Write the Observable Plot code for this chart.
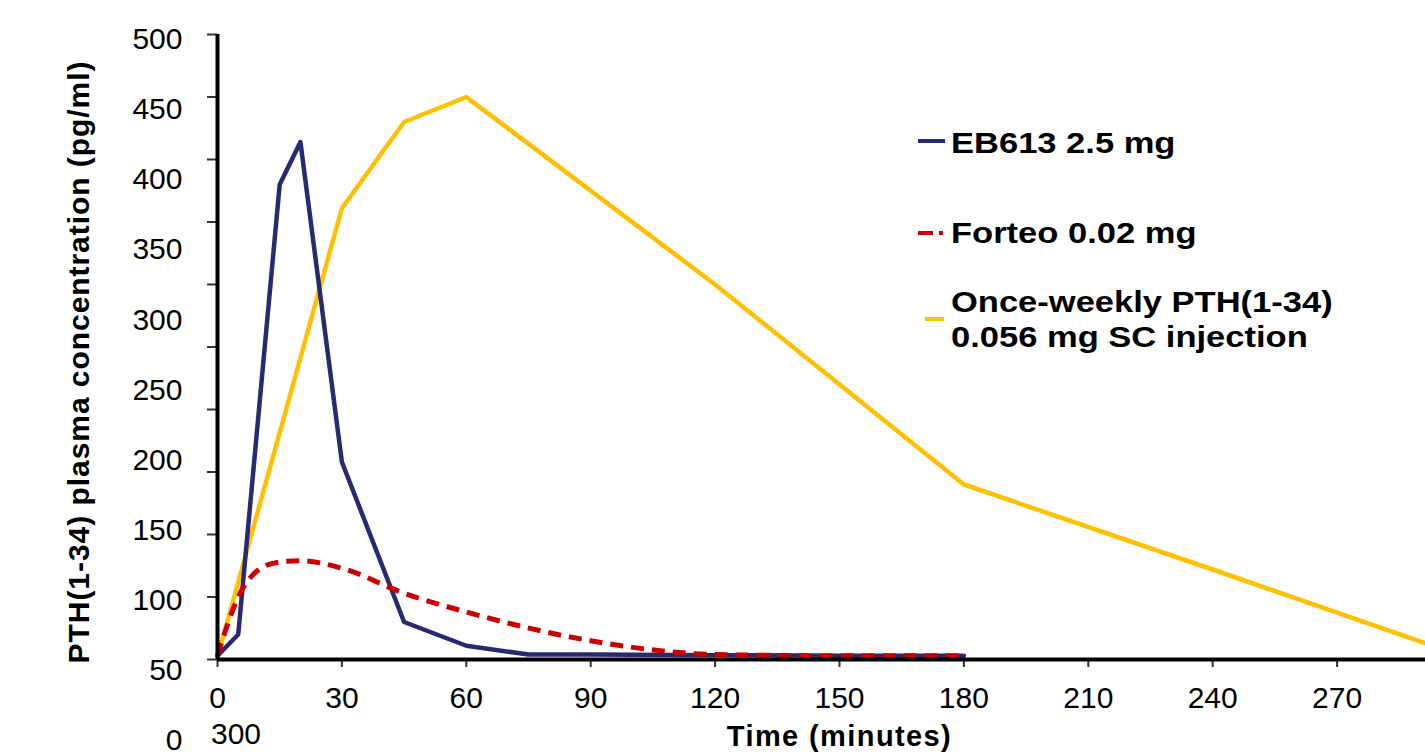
<!DOCTYPE html>
<html><head><meta charset="utf-8">
<script src="https://cdn.jsdelivr.net/npm/d3@7"></script>
<script src="https://cdn.jsdelivr.net/npm/@observablehq/plot@0.6"></script>
<style>
html,body{margin:0;padding:0;background:#fff;overflow:hidden;width:1425px;height:755px;}
#wrap{position:relative;width:1425px;height:755px;overflow:hidden;font-family:"Liberation Sans",Arial,sans-serif;color:#000;}
#wrap svg{position:absolute;top:0;left:0;}
.leg{position:absolute;font-size:29px;font-weight:bold;line-height:29px;white-space:nowrap;transform:scaleX(1.19);transform-origin:0 0;}
.sw{position:absolute;height:4px;}
#xwrap{position:absolute;font-size:30px;line-height:30px;white-space:nowrap;}
</style></head><body><div id="wrap"></div>
<script>
// ---- data ----
const seriesNames = ["EB613 2.5 mg", "Forteo 0.02 mg", "Once-weekly PTH(1-34)\n0.056 mg SC injection"];
const ebTime = [0, 5, 15, 20, 30, 45, 60, 75, 90, 120, 150, 180];
const ebConc = [3, 20, 380, 414, 158, 30, 11, 4, 4, 3.5, 3, 3];
const forteoTime = [0, 5, 10, 15, 20, 30, 45, 60, 90, 120, 150, 180];
const forteoConc = [3, 50, 72, 78, 79, 73, 53, 38, 15, 4, 3, 3];
const weeklyTime = [0, 30, 45, 60, 120, 180, 240, 300];
const weeklyConc = [2, 361, 430, 450, 300, 140, 72, 3];
const xTicks = [0, 30, 60, 90, 120, 150, 180, 210, 240, 270, 300];
const yTicks = [0, 50, 100, 150, 200, 250, 300, 350, 400, 450, 500];
const xTitle = "Time (minutes)";
const yTitle = "PTH(1-34) plasma concentration (pg/ml)";

// ---- styles ----
const colors = ["#272a70", "#cc0000", "#ffc000"];
const font = "'Liberation Sans', Arial, sans-serif";

const rows = (ts, vs) => ts.map((t, i) => ({t, v: vs[i]}));
const eb = rows(ebTime, ebConc);
const forteo = rows(forteoTime, forteoConc);
const weekly = rows(weeklyTime, weeklyConc);

const wrap = document.getElementById("wrap");

const main = Plot.plot({
  width: 1470, height: 755,
  marginTop: 34, marginBottom: 96, marginLeft: 217, marginRight: 9,
  x: {domain: [0, 300], axis: null},
  y: {domain: [0, 500], axis: null},
  style: {fontFamily: font, background: "white", maxWidth: "none", color: "black"},
  marks: [
    Plot.axisY(yTicks, {tickSize: 10, stroke: "#333", strokeWidth: 2, fill: "none", label: null}),
    Plot.axisX(xTicks.slice(0, -1), {tickSize: 8, tickPadding: 19, stroke: "#333", strokeWidth: 2, fill: "black", fontSize: 30, label: null}),
    Plot.line(weekly, {x: "t", y: "v", stroke: colors[2], strokeWidth: 4.5}),
    Plot.line(eb, {x: "t", y: "v", stroke: colors[0], strokeWidth: 4.5}),
    Plot.line(forteo, {x: "t", y: "v", stroke: colors[1], strokeWidth: 5, strokeDasharray: "13,8", strokeLinecap: "butt", curve: "monotone-x"}),
    Plot.ruleX([0], {stroke: "black", strokeWidth: 4}),
    Plot.ruleY([0], {stroke: "black", strokeWidth: 4}),
    Plot.text([yTitle], {text: d => d, frameAnchor: "left", textAnchor: "middle", rotate: -90, dx: -138, dy: 15, fontSize: 30, fontWeight: "bold", fill: "black", lineAnchor: "middle"}),
    Plot.text([xTitle], {text: d => d, frameAnchor: "bottom", textAnchor: "middle", dy: 77, fontSize: 29, fontWeight: "bold", fill: "black", lineAnchor: "middle"})
  ]
});
wrap.appendChild(main);
// letter spacing on the axis titles (style only)
d3.select(main).selectAll("text").filter(function() { return this.textContent === yTitle; }).style("letter-spacing", "0.95px");
d3.select(main).selectAll("text").filter(function() { return this.textContent === xTitle; }).style("letter-spacing", "1.4px");

// y tick labels (offset label scale, as in the reference)
const ylab = Plot.plot({
  width: 200, height: 755,
  marginTop: 39, marginBottom: 15, marginLeft: 182, marginRight: 18,
  x: {axis: null},
  y: {domain: [0, 500], axis: null},
  style: {fontFamily: font, background: "transparent", maxWidth: "none", color: "black"},
  marks: [
    Plot.axisY(yTicks, {tickSize: 0, tickPadding: 0, fontSize: 30, fill: "black", stroke: "none", label: null})
  ]
});
wrap.appendChild(ylab);

// wrapped last x tick label
const xw = document.createElement("div");
xw.id = "xwrap";
xw.style.left = "211px"; xw.style.top = "719px";
xw.textContent = String(xTicks[xTicks.length - 1]);
wrap.appendChild(xw);

// legend
function sw(left, top, width, color) {
  const d = document.createElement("div");
  d.className = "sw";
  d.style.left = left + "px"; d.style.top = top + "px"; d.style.width = width + "px";
  d.style.background = color;
  wrap.appendChild(d);
}
function lab(left, top, text) {
  const d = document.createElement("div");
  d.className = "leg";
  d.style.left = left + "px"; d.style.top = top + "px";
  d.textContent = text;
  wrap.appendChild(d);
}
sw(918, 139, 27, colors[0]);
lab(951, 129, seriesNames[0]);
sw(918, 231, 15, colors[1]);
sw(939, 231, 4, colors[1]);
lab(951, 219, seriesNames[1]);
sw(925, 317, 19, colors[2]);
const parts = seriesNames[2].split("\n");
lab(951, 288, parts[0]);
lab(951, 323, parts[1]);
</script></body></html>
